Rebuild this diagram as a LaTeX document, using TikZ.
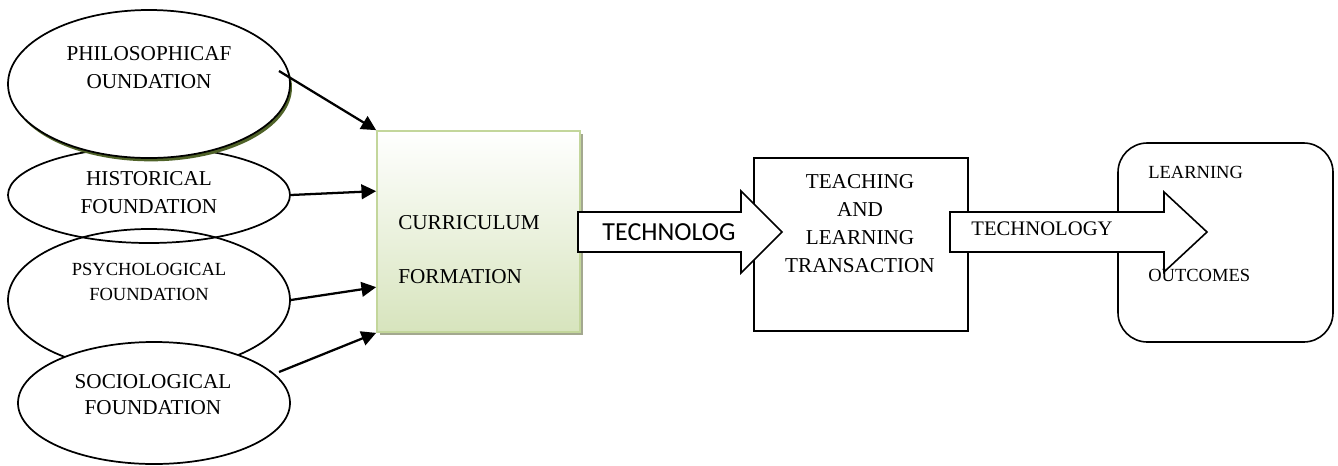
\documentclass[tikz,border=0pt]{standalone}
\usepackage{fontspec}
\setmainfont{Liberation Serif}
\newfontfamily\calibri{Carlito}
\usetikzlibrary{shapes.geometric,arrows.meta,shadows,calc}
\definecolor{philshadow}{HTML}{4F6228}
\definecolor{currline}{HTML}{C3D69B}
\definecolor{currbottom}{HTML}{D7E4BD}
\definecolor{currshadow}{HTML}{A3A88F}
\tikzset{
  found/.style={ellipse, draw, line width=1.3pt, inner sep=0pt},
  bigtext/.style={align=center, inner sep=0pt, font=\fontsize{15.9}{21}\selectfont},
  smalltext/.style={align=center, inner sep=0pt, font=\fontsize{13.9}{18.75}\selectfont},
  feed/.style={-{Triangle[length=11pt,width=11pt]}, line width=1.7pt},
  blockarrow/.style={draw, fill=white, line width=1.2pt, line join=miter},
}
\begin{document}
\begin{tikzpicture}[x=0.75pt, y=-0.75pt]
  %\draw [help lines] (0,0) grid (1338,465);
  \useasboundingbox (0,0) rectangle (1338,465);
  % foundations
  \node (hist) [found, minimum width=211.5pt, minimum height=72pt] at (149,195) {};
  \node (psych) [found, minimum width=211.5pt, minimum height=106.5pt] at (149,300) {};
  \node (phil) [found, fill=white, minimum width=211.5pt, minimum height=111pt,
    drop shadow={shadow xshift=1.5pt, shadow yshift=-2.5pt, fill=philshadow, opacity=1}] at (149,84) {};
  \node (soc) [found, fill=white, minimum width=204pt, minimum height=91.5pt] at (154,403) {};

  \node (philtext) [bigtext] at (149,68) {PHILOSOPHICAF\\OUNDATION};
  \node (histtext) [bigtext] at (149,192.5) {HISTORICAL\\FOUNDATION};
  \node (psychtext) [smalltext] at (149,281.5) {PSYCHOLOGICAL\\FOUNDATION};
  \node (soctext) [bigtext, font=\fontsize{15.9}{19.5}\selectfont] at (153,395) {SOCIOLOGICAL\\FOUNDATION};

  % curriculum
  \node (curr) [draw=currline, line width=1.3pt, top color=white, bottom color=currbottom,
    minimum width=152.25pt, minimum height=150.75pt, inner sep=0pt,
    drop shadow={shadow xshift=2pt, shadow yshift=-2pt, fill=currshadow, opacity=1}] at (478.5,231.5) {};
  \node (currtext) [bigtext, align=left, anchor=west, font=\fontsize{15.9}{41}\selectfont] at (398,249.5) {CURRICULUM\\FORMATION};

  \draw[feed] ($(phil.center)+(130,-13)$) -- (curr.north west);
  \draw[feed] (hist.east) -- ($(curr.north west)+(0,61)$);
  \draw[feed] (psych.east) -- ($(curr.north west)+(0,157)$);
  \draw[feed] ($(soc.center)+(125,-31)$) -- (curr.south west);

  % transaction and outcomes
  \node (teach) [draw, line width=1.2pt, minimum width=160.5pt, minimum height=129.75pt] at (861,244.5) {};
  \node (teachtext) [bigtext] at (860,224) {TEACHING\\AND\\LEARNING\\TRANSACTION};
  \node (learn) [draw, line width=1.2pt, rounded corners=22pt, minimum width=161.25pt, minimum height=149.25pt] at (1225.5,242.5) {};

  \draw[blockarrow] (578,212) -- (741,212) -- (741,191) -- (782,232) -- (741,273) -- (741,252) -- (578,252) -- cycle;
  \node (tech1) [inner sep=0pt, font=\calibri\fontsize{19.5}{23}\selectfont] at (669,232) {TECHNOLOG};
  \draw[blockarrow] (950,212) -- (1164,212) -- (1164,192) -- (1207,232) -- (1164,272) -- (1164,252) -- (950,252) -- cycle;
  \node (tech2) [inner sep=0pt, font=\fontsize{15.5}{19}\selectfont] at (1042,229) {TECHNOLOGY};

  \node (learntext) [smalltext, anchor=west] at (1148,172) {LEARNING};
  \node (outtext) [smalltext, anchor=west] at (1148,275) {OUTCOMES};
\end{tikzpicture}
\end{document}
